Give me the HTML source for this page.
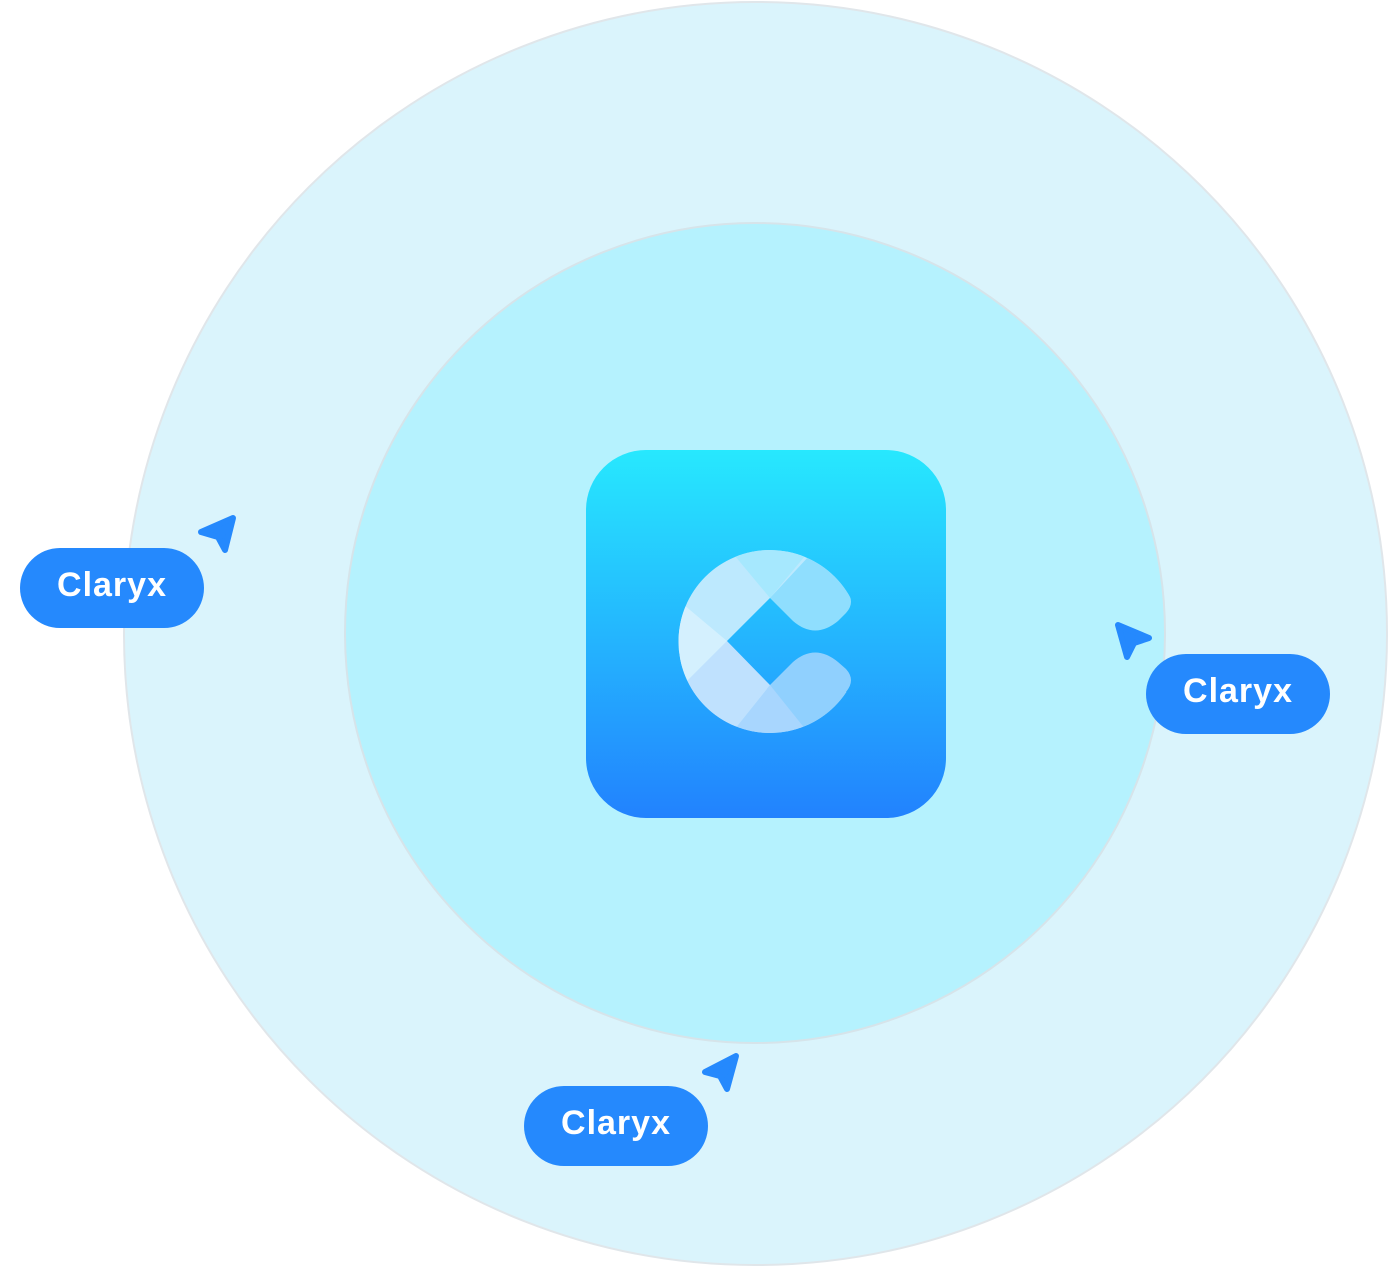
<!DOCTYPE html>
<html><head><style>
html,body{margin:0;padding:0;background:#fff;width:1388px;height:1266px;overflow:hidden;position:relative}
.c{position:absolute;border-radius:50%;box-sizing:border-box}
.pill{position:absolute;width:184px;height:80px;border-radius:40px;background:#2589fd;color:#fff;font-family:"Liberation Sans",sans-serif;font-size:34px;font-weight:bold;line-height:75px;text-align:center;letter-spacing:1px}
.icon{position:absolute;left:586px;top:450px;width:360px;height:368px;border-radius:60px;background:linear-gradient(#27e8fe,#24b6fe 50%,#2282fe)}
svg{position:absolute;left:0;top:0}
</style></head><body>
<div class="c" style="left:123px;top:1px;width:1265px;height:1265px;background:#daf4fc;border:2px solid #e0e6ea"></div>
<div class="c" style="left:344px;top:222px;width:822px;height:822px;background:#b5f2fe;border:2px solid #d6e4ea"></div>
<div class="icon"></div>
<svg width="1388" height="1266" viewBox="0 0 1388 1266">
<defs><clipPath id="cc"><circle cx="770" cy="641.5" r="91.5"/></clipPath>
<linearGradient id="g" x1="0" y1="450" x2="0" y2="818" gradientUnits="userSpaceOnUse"><stop offset="0" stop-color="#27e8fe"/><stop offset="0.5" stop-color="#24b6fe"/><stop offset="1" stop-color="#2282fe"/></linearGradient></defs>
<g clip-path="url(#cc)">
<rect x="670" y="540" width="200" height="210" fill="#bde9fe"/>
<polygon points="678,600 727,641 678,690" fill="#d4f0fe"/>
<polygon points="730,550 810,550 770,598" fill="#a6e8fe"/>
<polygon points="770,598 810,555 870,555 870,641 727,641" fill="#8fdefe"/>
<polygon points="727,641 870,641 870,740 810,740" fill="#90d0fe"/>
<polygon points="730,735 770,685 810,735" fill="#a8d6fe"/>
<polygon points="678,690 727,641 770,685 730,735 678,735" fill="#bfe1fe"/>
</g>
<path d="M727,641 L770,598 L793,621 Q815,640 838,621 L846,613 Q856,602 846,590 L880,590 L880,692 L846,692 Q856,680 846,669 L838,662 Q815,643 793,662 L770,685 Z" fill="url(#g)"/>
<g fill="#2589fd" stroke="#2589fd" stroke-width="6" stroke-linejoin="round">
<polygon points="233,518 201,532 218,537 225,550"/>
<polygon points="1118,625 1149,638 1134,643 1127,657"/>
<polygon points="736,1056 705,1072 720,1076 727,1089"/>
</g>
</svg>
<div class="pill" style="left:20px;top:548px">Claryx</div>
<div class="pill" style="left:1146px;top:654px">Claryx</div>
<div class="pill" style="left:524px;top:1086px">Claryx</div>
</body></html>
